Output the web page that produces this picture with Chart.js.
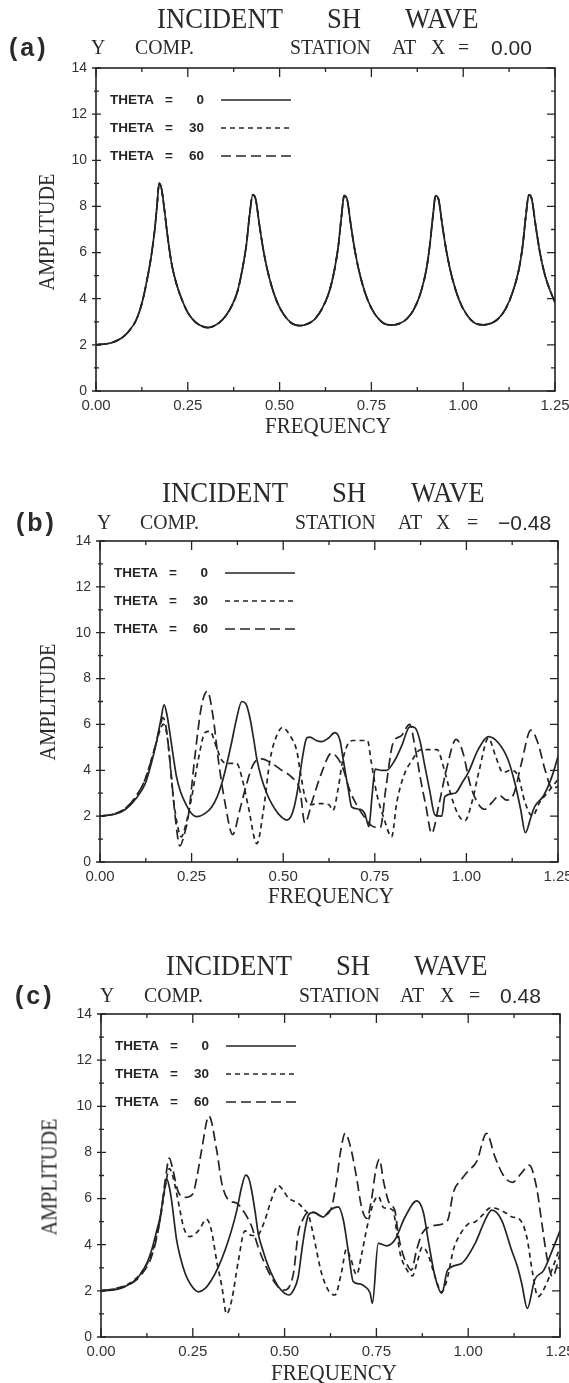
<!DOCTYPE html>
<html>
<head>
<meta charset="utf-8">
<script src="https://cdn.jsdelivr.net/npm/chart.js@4.4.1/dist/chart.umd.min.js"></script>
<style>
  body { margin: 0; width: 569px; height: 1383px; position: relative; overflow: hidden; background: #fff; color: #2a2a2a; }
  canvas { position: absolute; left: 0; }
  .t { position: absolute; white-space: nowrap; line-height: 1; }
</style>
</head>
<body>
<canvas id="chartA" width="600" height="460" style="top:0px"></canvas>
<canvas id="chartB" width="600" height="460" style="top:460px"></canvas>
<canvas id="chartC" width="600" height="463" style="top:920px"></canvas>
<script>
// tick values / labels
const xTickValues = [0, 0.25, 0.5, 0.75, 1.0, 1.25];
const yTickValues = [0, 2, 4, 6, 8, 10, 12, 14];
const thetas = ["0", "30", "60"];

// (a) station X = 0.00 : the three incidence angles give the same curve
const a0 = [[0,2.0],[0.04,2.08],[0.07,2.3],[0.09,2.6],[0.11,3.1],[0.125,3.8],[0.14,4.9],[0.15,5.8],[0.16,7.0],[0.166,8.0],[0.172,9.0],[0.178,8.8],[0.186,7.9],[0.195,6.7],[0.205,5.6],[0.218,4.7],[0.233,4.0],[0.25,3.4],[0.27,3.0],[0.29,2.8],[0.305,2.75],[0.325,2.85],[0.345,3.1],[0.365,3.55],[0.385,4.3],[0.4,5.4],[0.41,6.4],[0.418,7.6],[0.427,8.5],[0.435,8.3],[0.445,7.2],[0.457,6.0],[0.472,4.9],[0.492,3.9],[0.512,3.3],[0.532,2.95],[0.556,2.83],[0.575,2.9],[0.595,3.1],[0.615,3.55],[0.635,4.3],[0.65,5.3],[0.66,6.3],[0.668,7.5],[0.676,8.47],[0.684,8.3],[0.694,7.2],[0.706,6.0],[0.721,4.9],[0.741,3.9],[0.761,3.3],[0.782,2.95],[0.807,2.86],[0.826,2.92],[0.846,3.12],[0.866,3.55],[0.885,4.3],[0.9,5.3],[0.909,6.3],[0.917,7.5],[0.925,8.47],[0.933,8.3],[0.943,7.2],[0.955,6.0],[0.97,4.9],[0.99,3.9],[1.01,3.3],[1.031,2.95],[1.055,2.87],[1.075,2.93],[1.095,3.13],[1.115,3.55],[1.135,4.3],[1.152,5.3],[1.162,6.3],[1.17,7.5],[1.179,8.5],[1.187,8.3],[1.197,7.2],[1.209,6.0],[1.223,5.0],[1.238,4.3],[1.25,3.85]];
const a30 = a0;
const a60 = a0;

// (b) station X = -0.48
const b0 = [[0,2.0],[0.04,2.08],[0.07,2.3],[0.1,2.8],[0.123,3.4],[0.14,4.3],[0.155,5.3],[0.166,6.2],[0.175,6.85],[0.183,6.4],[0.191,5.6],[0.2,4.6],[0.209,3.7],[0.22,3.05],[0.232,2.6],[0.248,2.15],[0.264,1.98],[0.285,2.1],[0.305,2.4],[0.32,2.85],[0.332,3.4],[0.345,4.2],[0.359,5.2],[0.372,6.2],[0.387,7.0],[0.398,6.9],[0.409,6.3],[0.42,5.3],[0.428,4.5],[0.44,3.7],[0.455,3.0],[0.47,2.5],[0.487,2.1],[0.51,1.83],[0.52,1.95],[0.53,2.4],[0.541,3.3],[0.553,4.6],[0.564,5.4],[0.573,5.45],[0.59,5.3],[0.605,5.25],[0.623,5.4],[0.641,5.64],[0.655,5.3],[0.664,4.45],[0.678,3.14],[0.687,2.4],[0.71,2.3],[0.723,2.1],[0.734,1.54],[0.742,2.8],[0.751,4.05],[0.769,4.0],[0.782,4.0],[0.805,4.45],[0.823,5.05],[0.846,5.9],[0.86,5.85],[0.873,5.3],[0.887,4.15],[0.9,3.1],[0.914,2.05],[0.933,2.0],[0.941,2.85],[0.969,3.0],[0.99,3.5],[1.005,3.9],[1.032,4.9],[1.06,5.47],[1.087,5.2],[1.114,4.45],[1.133,3.4],[1.148,2.3],[1.161,1.28],[1.175,1.9],[1.186,2.4],[1.211,2.9],[1.235,3.8],[1.25,4.6]];
const b30 = [[0,2.0],[0.04,2.1],[0.07,2.35],[0.1,2.9],[0.123,3.6],[0.15,5.0],[0.165,5.8],[0.172,6.0],[0.18,5.8],[0.187,5.0],[0.2,2.8],[0.214,1.4],[0.222,1.1],[0.232,1.5],[0.25,2.8],[0.268,4.45],[0.287,5.65],[0.3,5.7],[0.318,5.0],[0.332,4.45],[0.35,4.3],[0.373,4.3],[0.387,3.7],[0.405,2.4],[0.428,0.8],[0.446,2.25],[0.464,4.45],[0.482,5.5],[0.498,5.87],[0.519,5.5],[0.537,4.85],[0.546,4.0],[0.56,2.8],[0.573,2.5],[0.6,2.55],[0.625,2.5],[0.636,2.25],[0.65,3.2],[0.662,4.4],[0.675,5.1],[0.69,5.3],[0.73,5.3],[0.74,4.4],[0.755,3.0],[0.775,1.9],[0.796,1.1],[0.81,2.6],[0.83,3.8],[0.85,4.4],[0.876,4.9],[0.92,4.9],[0.94,4.0],[0.96,2.8],[0.98,2.0],[0.996,1.8],[1.015,2.6],[1.035,4.0],[1.06,5.4],[1.08,4.6],[1.1,3.9],[1.12,4.0],[1.14,3.8],[1.16,2.6],[1.18,2.0],[1.2,2.6],[1.22,3.0],[1.25,3.6]];
const b60 = [[0,2.0],[0.04,2.1],[0.07,2.35],[0.1,2.9],[0.123,3.6],[0.15,5.0],[0.165,6.0],[0.172,6.3],[0.18,5.9],[0.191,4.4],[0.205,2.0],[0.218,0.7],[0.23,1.2],[0.241,2.0],[0.259,4.6],[0.277,6.8],[0.293,7.45],[0.309,6.3],[0.323,4.45],[0.341,2.6],[0.362,1.2],[0.382,2.3],[0.4,3.4],[0.418,4.25],[0.441,4.5],[0.469,4.3],[0.496,4.0],[0.523,3.7],[0.546,3.1],[0.559,1.7],[0.58,2.7],[0.605,3.9],[0.632,4.75],[0.65,4.5],[0.665,4.0],[0.68,3.2],[0.7,2.5],[0.72,2.0],[0.74,1.6],[0.765,1.5],[0.78,3.2],[0.8,5.2],[0.822,5.5],[0.845,6.0],[0.86,5.0],[0.875,3.6],[0.89,2.4],[0.905,1.25],[0.925,2.5],[0.945,4.0],[0.972,5.35],[0.99,4.8],[1.01,3.4],[1.03,2.6],[1.05,2.3],[1.07,2.6],[1.09,2.9],[1.11,2.7],[1.13,3.0],[1.15,4.3],[1.176,5.75],[1.195,5.2],[1.215,4.0],[1.235,3.2],[1.25,3.3]];

// (c) station X = 0.48
const c0 = [[0,2.0],[0.03,2.03],[0.065,2.18],[0.102,2.6],[0.125,3.2],[0.138,3.77],[0.15,4.5],[0.161,5.2],[0.172,6.3],[0.179,6.85],[0.186,6.5],[0.192,5.94],[0.206,4.2],[0.217,3.4],[0.229,2.76],[0.245,2.25],[0.265,1.96],[0.283,2.1],[0.301,2.47],[0.32,3.05],[0.338,3.77],[0.355,4.6],[0.37,5.5],[0.383,6.5],[0.394,7.02],[0.403,6.85],[0.41,6.37],[0.42,5.4],[0.428,4.5],[0.442,3.7],[0.456,3.05],[0.47,2.55],[0.483,2.18],[0.512,1.82],[0.525,2.05],[0.537,2.6],[0.547,3.77],[0.556,4.7],[0.565,5.29],[0.578,5.4],[0.605,5.2],[0.624,5.5],[0.646,5.64],[0.66,5.07],[0.673,3.77],[0.687,2.4],[0.705,2.3],[0.719,2.18],[0.733,1.9],[0.739,1.46],[0.755,4.06],[0.778,3.95],[0.8,4.2],[0.828,5.2],[0.86,5.9],[0.878,5.4],[0.891,4.2],[0.91,2.6],[0.928,1.9],[0.944,2.9],[0.982,3.19],[1.019,4.06],[1.046,5.07],[1.064,5.5],[1.091,5.07],[1.118,3.77],[1.135,3.0],[1.146,2.3],[1.161,1.24],[1.181,2.47],[1.206,2.9],[1.23,3.8],[1.25,4.6]];
const c30 = [[0,2.0],[0.04,2.1],[0.08,2.35],[0.11,2.8],[0.14,3.7],[0.16,5.0],[0.175,6.5],[0.186,7.3],[0.195,7.0],[0.205,6.3],[0.215,5.5],[0.225,4.75],[0.242,4.35],[0.265,4.6],[0.288,5.1],[0.301,4.6],[0.315,3.3],[0.329,2.2],[0.342,1.0],[0.356,1.6],[0.374,3.3],[0.392,4.6],[0.41,4.4],[0.425,4.4],[0.445,5.0],[0.465,6.0],[0.483,6.55],[0.512,6.0],[0.537,5.8],[0.555,5.5],[0.565,5.3],[0.58,4.3],[0.6,2.8],[0.62,2.0],[0.637,1.82],[0.655,2.8],[0.668,3.8],[0.68,3.4],[0.696,2.7],[0.71,3.6],[0.725,4.8],[0.742,5.8],[0.755,6.1],[0.77,5.6],[0.795,5.5],[0.805,4.6],[0.815,3.6],[0.83,3.0],[0.848,2.65],[0.862,3.3],[0.875,3.9],[0.89,3.6],[0.91,2.6],[0.928,1.95],[0.944,2.6],[0.96,3.8],[0.98,4.5],[1.0,4.9],[1.02,5.0],[1.04,5.3],[1.06,5.6],[1.08,5.55],[1.1,5.4],[1.12,5.2],[1.14,5.1],[1.16,4.3],[1.175,2.8],[1.19,1.75],[1.21,2.2],[1.23,3.0],[1.25,3.9]];
const c60 = [[0,2.0],[0.04,2.1],[0.08,2.3],[0.11,2.7],[0.14,3.6],[0.16,5.0],[0.175,6.8],[0.186,7.75],[0.195,7.3],[0.21,6.3],[0.229,6.05],[0.25,6.2],[0.262,7.0],[0.274,8.1],[0.294,9.58],[0.315,8.1],[0.329,6.66],[0.347,5.94],[0.37,5.8],[0.386,5.5],[0.41,4.8],[0.428,3.9],[0.451,3.0],[0.478,2.25],[0.497,2.03],[0.524,2.75],[0.537,4.5],[0.55,5.1],[0.565,5.4],[0.58,5.4],[0.6,5.25],[0.625,5.5],[0.64,6.6],[0.652,8.0],[0.665,8.83],[0.68,8.2],[0.695,7.0],[0.71,5.6],[0.724,5.14],[0.737,6.0],[0.748,7.2],[0.758,7.7],[0.77,6.7],[0.785,5.8],[0.8,5.5],[0.81,4.4],[0.822,3.6],[0.835,3.1],[0.845,2.9],[0.86,3.8],[0.875,4.5],[0.9,4.8],[0.93,4.9],[0.945,5.1],[0.96,6.3],[0.98,6.8],[1.0,7.2],[1.023,7.6],[1.05,8.83],[1.073,7.8],[1.096,7.0],[1.12,6.7],[1.145,7.1],[1.166,7.45],[1.186,6.5],[1.2,5.0],[1.215,3.4],[1.23,2.6],[1.24,3.0],[1.25,3.6]];

const dashes = [[], [5, 4], [10, 5]];
const ink = "#242424";

// frame, inward ticks and in-plot legend
const framePlugin = {
  id: "frame",
  afterDraw(chart) {
    const { ctx, chartArea: a, scales } = chart;
    const x = scales.x, y = scales.y;
    ctx.save();
    ctx.strokeStyle = ink;
    ctx.lineWidth = 1.6;
    ctx.strokeRect(a.left, a.top, a.right - a.left, a.bottom - a.top);
    ctx.lineWidth = 1.3;
    ctx.beginPath();
    for (let i = 0; i <= 10; i++) {
      const px = x.getPixelForValue(i * 0.125);
      const len = i % 2 === 0 ? 9 : 4;
      ctx.moveTo(px, a.bottom); ctx.lineTo(px, a.bottom - len);
      ctx.moveTo(px, a.top); ctx.lineTo(px, a.top + len);
    }
    for (let v = 0; v <= 14; v++) {
      const py = y.getPixelForValue(v);
      const major = v % 2 === 0;
      ctx.moveTo(a.left - (major ? 4 : 2), py); ctx.lineTo(a.left + (major ? 5 : 3), py);
      ctx.moveTo(a.right, py); ctx.lineTo(a.right - (major ? 8 : 4), py);
    }
    ctx.stroke();

    // legend
    ctx.fillStyle = ink;
    ctx.font = "bold 13.5px 'Liberation Sans'";
    ctx.textBaseline = "middle";
    chart.data.datasets.forEach((ds, i) => {
      const ry = a.top + 32 + i * 28;
      ctx.textAlign = "left";
      ctx.fillText("THETA", a.left + 14, ry);
      ctx.textAlign = "center";
      ctx.fillText("=", a.left + 73, ry);
      ctx.textAlign = "right";
      ctx.fillText(thetas[i], a.left + 108, ry);
      ctx.beginPath();
      ctx.setLineDash(dashes[i]);
      ctx.lineWidth = 1.6;
      ctx.moveTo(a.left + 125, ry);
      ctx.lineTo(a.left + 195, ry);
      ctx.stroke();
      ctx.setLineDash([]);
    });
    ctx.restore();
  }
};

// box = plot frame inside the canvas: left, top, right, bottom
function makeChart(id, series, box, canvasH) {
  const ctx = document.getElementById(id).getContext("2d");
  const xAxisH = 40;
  return new Chart(ctx, {
    type: "line",
    data: {
      datasets: series.map((s, i) => ({
        label: "THETA = " + thetas[i],
        data: s.map(p => ({ x: p[0], y: p[1] })),
        borderColor: ink,
        borderWidth: 1.7,
        borderDash: dashes[i],
        pointRadius: 0,
        fill: false,
        cubicInterpolationMode: "monotone"
      }))
    },
    options: {
      responsive: false,
      animation: false,
      devicePixelRatio: 1,
      layout: { padding: { left: 0, top: box[1], right: 600 - box[2], bottom: canvasH - box[3] - xAxisH } },
      plugins: { legend: { display: false }, tooltip: { enabled: false } },
      scales: {
        x: {
          type: "linear", min: 0, max: 1.25,
          afterBuildTicks(s) { s.ticks = xTickValues.map(v => ({ value: v })); },
          afterFit(s) { s.height = xAxisH; },
          grid: { display: false, drawTicks: false },
          border: { display: false },
          ticks: {
            callback: v => v.toFixed(2),
            font: { family: "Liberation Sans", size: 15 },
            color: "#333", padding: 6, maxRotation: 0, autoSkip: false
          }
        },
        y: {
          min: 0, max: 14,
          afterBuildTicks(s) { s.ticks = yTickValues.map(v => ({ value: v })); },
          afterFit(s) { s.width = box[0]; },
          grid: { display: false, drawTicks: false },
          border: { display: false },
          ticks: {
            font: { family: "Liberation Sans", size: 14 },
            color: "#333", padding: 9, autoSkip: false
          }
        }
      }
    },
    plugins: [framePlugin]
  });
}

makeChart("chartA", [a0, a30, a60], [96, 68, 555, 391], 460);
makeChart("chartB", [b0, b30, b60], [100, 81, 558, 402], 460);
makeChart("chartC", [c0, c30, c60], [101, 94, 560, 417], 463);

// headings and axis names
function put(text, x, y, css, transform) {
  const d = document.createElement("div");
  d.className = "t";
  d.textContent = text;
  d.style.cssText += css;
  d.style.left = x + "px";
  d.style.top = y + "px";
  d.style.transform = transform;
  document.body.appendChild(d);
  return d;
}
const serif = "font-family:'Liberation Serif',serif;";
const sans = "font-family:'Liberation Sans',sans-serif;";
const headings = [
  { tag: "(a)", ty: 18, sy: 47, words: [157, 327, 405], sub: [9, 91, 135, 290, 392, 431, 458, 491], num: "0.00", amp: [45.6, 231.5], freq: [327.5, 425] },
  { tag: "(b)", ty: 492, sy: 522, words: [162, 332, 411], sub: [16, 97, 140, 295, 398, 436, 467, 498], num: "\u22120.48", amp: [47.4, 702], freq: [331, 895] },
  { tag: "(c)", ty: 965, sy: 995, words: [166, 336, 414], sub: [15, 100, 144, 299, 400, 440, 469, 500], num: "0.48", amp: [49, 1177], freq: [334, 1372] }
];
headings.forEach(h => {
  ["INCIDENT", "SH", "WAVE"].forEach((w, i) => {
    const d = put(w, h.words[i], h.ty, serif + "font-size:29px;", "translateY(-50%) scaleX(0.92)");
    d.style.transformOrigin = "0 50%";
  });
  put(h.tag, h.sub[0], h.sy, sans + "font-size:25px;font-weight:bold;letter-spacing:3px;", "translateY(-50%)");
  ["Y", "COMP.", "STATION", "AT", "X", "="].forEach((w, i) => {
    const d = put(w, h.sub[i + 1], h.sy, serif + "font-size:22px;", "translateY(-50%) scaleX(0.9)");
    d.style.transformOrigin = "0 50%";
  });
  put(h.num, h.sub[7], h.sy, sans + "font-size:21px;", "translateY(-50%)");
  put("AMPLITUDE", h.amp[0], h.amp[1], serif + "font-size:23px;", "translate(-50%,-50%) rotate(-90deg) scaleX(0.88)");
  put("FREQUENCY", h.freq[0], h.freq[1], serif + "font-size:24px;", "translate(-50%,-50%) scaleX(0.875)");
});
</script>
</body>
</html>
